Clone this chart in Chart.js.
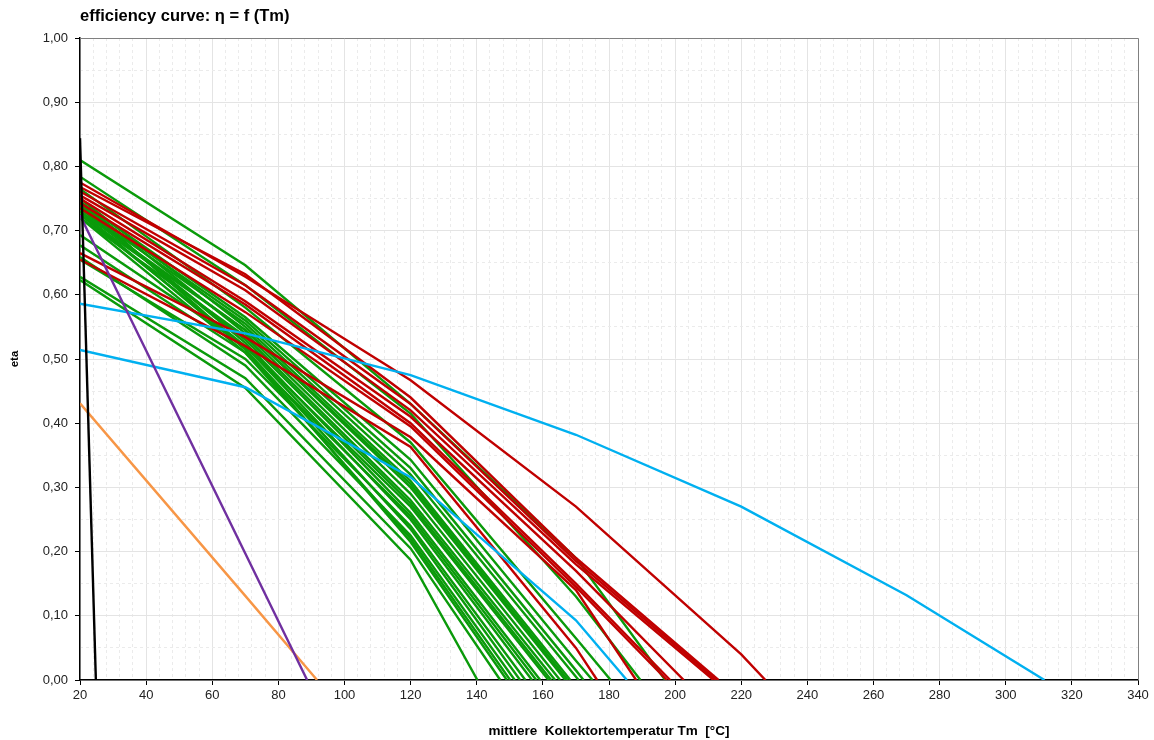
<!DOCTYPE html>
<html>
<head>
<meta charset="utf-8">
<script src="https://cdn.jsdelivr.net/npm/chart.js@4"></script>
<style>
  html, body { margin: 0; padding: 0; background: #fff; }
  #wrap { width: 1154px; height: 740px; }
</style>
</head>
<body>
<div id="wrap"><canvas id="chart"></canvas></div>
<script>
// Temperaturen der Stützstellen, danach folgt je Kurve der Nullpunkt (tEnd, 0)
const tGrid = [20, 70, 120, 170, 220, 270];

// eta bei 20, 70, 120, (170, 220, 270)
const greenEta = [
  [0.81, 0.646, 0.43, 0.19],
  [0.784, 0.615, 0.415, 0.13],
  [0.765, 0.58, 0.37, 0.065],
  [0.745, 0.565, 0.343, 0.03],
  [0.74, 0.56, 0.33, 0.015],
  [0.735, 0.555, 0.32],
  [0.75, 0.55, 0.31],
  [0.725, 0.545, 0.305],
  [0.73, 0.545, 0.30],
  [0.745, 0.54, 0.29],
  [0.72, 0.535, 0.28],
  [0.735, 0.53, 0.275],
  [0.693, 0.52, 0.27],
  [0.74, 0.525, 0.26],
  [0.677, 0.51, 0.255],
  [0.725, 0.52, 0.25],
  [0.655, 0.50, 0.24],
  [0.73, 0.515, 0.235],
  [0.659, 0.49, 0.225],
  [0.72, 0.51, 0.22],
  [0.745, 0.515, 0.215],
  [0.628, 0.47, 0.205],
  [0.623, 0.455, 0.187]
];
const greenEnd = [197.0, 189.5, 180.5, 175.0, 172.3, 170.8, 168.3, 167.5, 166.8, 165.2, 163.7, 162.5,
  161.7, 159.2, 158.0, 156.7, 154.7, 153.1, 151.5, 150.1, 149.1, 147.1, 140.2];

const redEta = [
  [0.775, 0.628, 0.467, 0.27, 0.04],
  [0.768, 0.632, 0.44, 0.19],
  [0.761, 0.615, 0.43, 0.185],
  [0.755, 0.607, 0.42, 0.18],
  [0.75, 0.59, 0.41, 0.17],
  [0.743, 0.585, 0.40, 0.15],
  [0.735, 0.573, 0.395, 0.145],
  [0.665, 0.534, 0.378, 0.14],
  [0.655, 0.52, 0.363, 0.05]
];
const redEnd = [227.3, 213.1, 212.4, 211.6, 202.6, 198.5, 197.5, 188.2, 176.4];

const blueEta = [
  [0.586, 0.54, 0.475, 0.382, 0.27, 0.132],
  [0.514, 0.456, 0.316, 0.093]
];
const blueEnd = [311.7, 185.4];

const orangeEta = [[0.431, 0.131]];
const orangeEnd = [91.7];
const purpleEta = [[0.724, 0.197]];
const purpleEnd = [88.7];
const blackEta = [[0.844]];
const blackEnd = [24.8];

const xTicks = { min: 20, max: 340, major: 20, minor: 4 };
const yTicks = { min: 0, max: 1, major: 0.1, minor: 0.05 };

const FONT = "'Liberation Sans', Arial, sans-serif";

function makeSets(etaList, ends, color, order) {
  return etaList.map((eta, i) => {
    const pts = eta.map((v, k) => ({ x: tGrid[k], y: v }));
    pts.push({ x: ends[i], y: 0 });
    return {
      data: pts,
      borderColor: color,
      backgroundColor: color,
      borderWidth: 2.4,
      pointRadius: 0,
      tension: 0,
      fill: false,
      order: order
    };
  });
}

const datasets = [].concat(
  makeSets(greenEta, greenEnd, '#0a9a0a', 6),
  makeSets(redEta, redEnd, '#c00000', 5),
  makeSets(blueEta, blueEnd, '#00b0f0', 4),
  makeSets(orangeEta, orangeEnd, '#f79646', 3),
  makeSets(purpleEta, purpleEnd, '#7030a0', 2),
  makeSets(blackEta, blackEnd, '#000000', 1)
);

// oberer und rechter Rahmen der Zeichenfläche
const frame = {
  id: 'frame',
  afterDraw(chart) {
    const { ctx, chartArea: a } = chart;
    ctx.save();
    ctx.strokeStyle = '#808080';
    ctx.lineWidth = 1;
    ctx.beginPath();
    ctx.moveTo(a.left, a.top + 0.5);
    ctx.lineTo(a.right + 0.5, a.top + 0.5);
    ctx.lineTo(a.right + 0.5, a.bottom);
    ctx.stroke();
    ctx.restore();
  }
};

new Chart(document.getElementById('chart'), {
  type: 'line',
  data: { datasets: datasets },
  plugins: [frame],
  options: {
    responsive: true,
    maintainAspectRatio: false,
    animation: false,
    layout: { padding: { left: 0, right: 16, top: 0, bottom: 0 } },
    plugins: {
      legend: { display: false },
      tooltip: { enabled: false },
      title: {
        display: true,
        text: 'efficiency curve: η = f (Tm)',
        align: 'start',
        fullSize: false,
        color: '#000',
        font: { family: FONT, size: 16.5, weight: 'bold' },
        padding: { top: 7, bottom: 11.2 }
      }
    },
    scales: {
      x: {
        type: 'linear',
        position: 'bottom',
        min: xTicks.min,
        max: xTicks.max,
        afterFit(s) { s.height = 60; },
        ticks: {
          stepSize: xTicks.major,
          color: '#222',
          padding: 3,
          maxRotation: 0,
          font: { family: FONT, size: 13 }
        },
        grid: { color: '#e4e4e4', lineWidth: 1, tickColor: '#000', tickLength: 5 },
        border: { display: true, color: '#000', width: 1.5 },
        title: {
          display: true,
          text: 'mittlere  Kollektortemperatur Tm  [°C]',
          color: '#000',
          font: { family: FONT, size: 13.5, weight: 'bold' },
          padding: { top: 0, bottom: 1 }
        }
      },
      xMinor: {
        type: 'linear',
        position: 'bottom',
        min: xTicks.min,
        max: xTicks.max,
        afterFit(s) { s.height = 0; },
        ticks: { stepSize: xTicks.minor, display: false },
        grid: {
          drawTicks: false,
          lineWidth: 1,
          color: (c) => (c.tick && Math.abs(c.tick.value % xTicks.major) < 1e-6) ? 'rgba(0,0,0,0)' : '#ebebeb'
        },
        border: { display: false, dash: [3, 3] }
      },
      y: {
        type: 'linear',
        position: 'left',
        min: yTicks.min,
        max: yTicks.max,
        afterFit(s) { s.width = 80; },
        ticks: {
          stepSize: yTicks.major,
          color: '#222',
          padding: 7,
          font: { family: FONT, size: 13 },
          callback: (v) => v.toFixed(2).replace('.', ',')
        },
        grid: { color: '#e4e4e4', lineWidth: 1, tickColor: '#000', tickLength: 5 },
        border: { display: true, color: '#000', width: 1.5 },
        title: {
          display: true,
          text: 'eta',
          color: '#000',
          font: { family: FONT, size: 11.5, weight: 'bold' },
          padding: { top: 8, bottom: 0 }
        }
      },
      yMinor: {
        type: 'linear',
        position: 'left',
        min: yTicks.min,
        max: yTicks.max,
        afterFit(s) { s.width = 0; },
        ticks: { stepSize: yTicks.minor, display: false },
        grid: {
          drawTicks: false,
          lineWidth: 1,
          color: (c) => {
            if (!c.tick) return 'rgba(0,0,0,0)';
            const r = Math.round(c.tick.value / yTicks.minor);
            return r % 2 === 0 ? 'rgba(0,0,0,0)' : '#ebebeb';
          }
        },
        border: { display: false, dash: [3, 3] }
      }
    }
  }
});
</script>
</body>
</html>
